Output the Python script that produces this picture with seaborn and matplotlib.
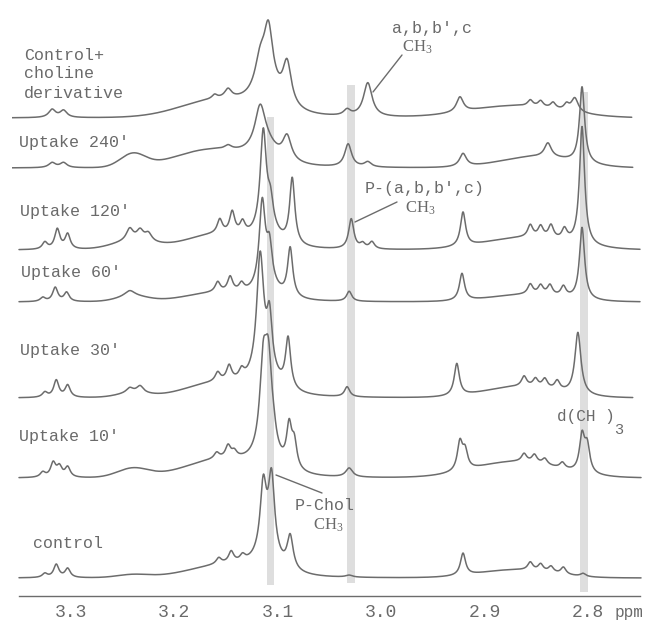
import numpy as np
import pandas as pd
import matplotlib
matplotlib.use("Agg")
import matplotlib.pyplot as plt
import seaborn as sns

# ------------------------------------------------------------------ data
trace_names = ["Control+choline derivative", "Uptake 240′", "Uptake 120′",
               "Uptake 60′", "Uptake 30′", "Uptake 10′", "control"]
baselines = [478, 428, 346, 294, 198, 118, 18]
ppm_start = [3.357, 3.357, 3.350, 3.350, 3.350, 3.350, 3.350]
ppm_end = [2.758, 2.757, 2.750, 2.750, 2.757, 2.749, 2.749]

# narrow (Lorentzian) peaks: position ppm, height, half width; broad humps (Gaussian)
top_pos = [3.318, 3.307, 3.161, 3.148, 3.117, 3.109, 3.110, 3.091, 3.033, 3.013, 2.924, 2.856, 2.846, 2.834, 2.821, 2.813]
top_h   = [8, 7, 4, 9, 28, 54, 25, 42, 6, 34, 15, 6, 6, 6, 6, 14]
top_w   = [0.004, 0.004, 0.003, 0.004, 0.006, 0.005, 0.015, 0.005, 0.004, 0.005, 0.004, 0.003, 0.003, 0.003, 0.003, 0.004]
top_gp  = [3.16, 2.87]
top_gh  = [16, 12]
top_gs  = [0.035, 0.045]

u240_pos = [3.318, 3.307, 3.148, 3.117, 3.112, 3.091, 3.032, 3.013, 2.921, 2.839, 2.806]
u240_h   = [5, 5, 4, 40, 18, 24, 23, 5, 13, 14, 76]
u240_w   = [0.004, 0.004, 0.004, 0.006, 0.015, 0.005, 0.004, 0.004, 0.004, 0.004, 0.003]
u240_gp  = [3.24, 3.165, 2.85]
u240_gh  = [13, 17, 11]
u240_gs  = [0.012, 0.035, 0.035]

u120_pos = [3.325, 3.313, 3.303, 3.243, 3.233, 3.225, 3.156, 3.144, 3.134, 3.114, 3.107, 3.110, 3.086, 3.029, 3.018, 3.009, 2.921, 2.856, 2.846, 2.836, 2.823, 2.806]
u120_h   = [7, 20, 15, 12, 10, 8, 14, 22, 12, 95, 22, 20, 66, 30, 5, 7, 34, 12, 11, 13, 11, 118]
u120_w   = [0.003, 0.003, 0.003, 0.004, 0.004, 0.004, 0.003, 0.003, 0.003, 0.0035, 0.003, 0.012, 0.003, 0.003, 0.003, 0.003, 0.003, 0.003, 0.003, 0.003, 0.003, 0.003]
u120_gp  = [3.24, 3.16, 2.86]
u120_gh  = [8, 14, 12]
u120_gs  = [0.02, 0.03, 0.04]

u60_pos = [3.327, 3.315, 3.304, 3.243, 3.158, 3.146, 3.135, 3.115, 3.108, 3.110, 3.088, 3.031, 2.922, 2.856, 2.846, 2.837, 2.824, 2.806]
u60_h   = [4, 14, 9, 6, 10, 15, 8, 82, 34, 16, 49, 10, 27, 10, 9, 10, 10, 72]
u60_w   = [0.003, 0.003, 0.003, 0.006, 0.003, 0.003, 0.003, 0.0035, 0.003, 0.012, 0.003, 0.003, 0.003, 0.003, 0.003, 0.003, 0.003, 0.003]
u60_gp  = [3.24, 3.16, 2.86]
u60_gh  = [5, 8, 7]
u60_gs  = [0.015, 0.03, 0.035]

u30_pos = [3.325, 3.314, 3.303, 3.243, 3.233, 3.158, 3.147, 3.135, 3.117, 3.108, 3.112, 3.090, 3.033, 2.927, 2.862, 2.851, 2.842, 2.830, 2.810]
u30_h   = [5, 17, 12, 5, 7, 9, 15, 9, 114, 50, 25, 50, 10, 32, 10, 8, 9, 9, 62]
u30_w   = [0.003, 0.003, 0.003, 0.004, 0.004, 0.003, 0.003, 0.003, 0.004, 0.003, 0.014, 0.003, 0.003, 0.003, 0.003, 0.003, 0.003, 0.003, 0.0035]
u30_gp  = [3.24, 3.16, 2.865]
u30_gh  = [4, 13, 11]
u30_gs  = [0.015, 0.03, 0.035]

u10_pos = [3.327, 3.317, 3.311, 3.303, 3.159, 3.148, 3.142, 3.114, 3.109, 3.104, 3.110, 3.089, 3.084, 3.031, 2.924, 2.919, 2.862, 2.852, 2.842, 2.825, 2.806, 2.801]
u10_h   = [5, 14, 10, 10, 6, 12, 6, 80, 80, 10, 18, 40, 25, 9, 28, 18, 8, 8, 6, 6, 36, 26]
u10_w   = [0.003, 0.003, 0.003, 0.003, 0.003, 0.003, 0.003, 0.004, 0.004, 0.003, 0.012, 0.003, 0.003, 0.004, 0.003, 0.003, 0.003, 0.003, 0.003, 0.003, 0.003, 0.003]
u10_gp  = [3.24, 3.155, 2.87]
u10_gh  = [9, 17, 16]
u10_gs  = [0.015, 0.035, 0.04]

ctrl_pos = [3.325, 3.314, 3.303, 3.157, 3.145, 3.134, 3.114, 3.106, 3.110, 3.088, 3.031, 2.921, 2.856, 2.846, 2.836, 2.824, 2.805]
ctrl_h   = [4, 13, 9, 6, 11, 6, 64, 73, 22, 33, 2, 22, 8, 7, 6, 7, 3]
ctrl_w   = [0.003, 0.003, 0.003, 0.003, 0.003, 0.003, 0.0035, 0.0035, 0.012, 0.0035, 0.004, 0.003, 0.003, 0.003, 0.003, 0.003, 0.003]
ctrl_gp  = [3.24, 3.15, 2.87]
ctrl_gh  = [3, 12, 8]
ctrl_gs  = [0.015, 0.035, 0.035]

# shaded reference bands (ppm centre, vertical extent)
band_ppm = [3.107, 3.029, 2.804]
band_lo = [11, 13, 4]
band_hi = [479, 511, 504]

major_ticks = [3.35, 3.25, 3.15, 3.05, 2.95, 2.85, 2.75]
minor_ticks = [3.3, 3.2, 3.1, 3.0, 2.9, 2.8]
minor_labels = ["3.3", "3.2", "3.1", "3.0", "2.9", "2.8"]

peak_sets = [
    (top_pos, top_h, top_w, top_gp, top_gh, top_gs),
    (u240_pos, u240_h, u240_w, u240_gp, u240_gh, u240_gs),
    (u120_pos, u120_h, u120_w, u120_gp, u120_gh, u120_gs),
    (u60_pos, u60_h, u60_w, u60_gp, u60_gh, u60_gs),
    (u30_pos, u30_h, u30_w, u30_gp, u30_gh, u30_gs),
    (u10_pos, u10_h, u10_w, u10_gp, u10_gh, u10_gs),
    (ctrl_pos, ctrl_h, ctrl_w, ctrl_gp, ctrl_gh, ctrl_gs),
]

# ------------------------------------------------------------------ build spectra
frames = []
for name, base, s, e, (pp, hh, ww, gp, gh, gs) in zip(trace_names, baselines, ppm_start, ppm_end, peak_sets):
    x = np.linspace(s, e, 2400)
    y = np.full_like(x, float(base))
    for p, h, w in zip(pp, hh, ww):
        y += h / (1.0 + ((x - p) / w) ** 2)
    for p, h, w in zip(gp, gh, gs):
        y += h * np.exp(-0.5 * ((x - p) / w) ** 2)
    frames.append(pd.DataFrame({"ppm": x, "intensity": y, "trace": name}))
df = pd.concat(frames, ignore_index=True)

# ------------------------------------------------------------------ figure
sns.set_style("white")
plt.rcParams["font.family"] = ["Liberation Mono", "DejaVu Sans Mono"]
plt.rcParams["mathtext.fontset"] = "custom"
plt.rcParams["mathtext.rm"] = "Liberation Serif"
plt.rcParams["mathtext.it"] = "Liberation Serif:italic"

W, H = 654, 622
fig = plt.figure(figsize=(W / 100, H / 100), dpi=100)
X0, X1 = 12, 642
ax = fig.add_axes([X0 / W, 26 / H, (X1 - X0) / W, 596 / H])
PPM_PER_PX = 1 / 1035.0
ax.set_xlim(3.35 + (19 - X0) * PPM_PER_PX, 3.35 - (X1 - 19) * PPM_PER_PX)
ax.set_ylim(0, 596)

GRAY = "#6c6c6c"
TXT = "#6a6a6a"

for c, lo, hi in zip(band_ppm, band_lo, band_hi):
    ax.axvspan(c - 0.0038, c + 0.0038, ymin=lo / 596, ymax=hi / 596,
               color="#dedede", lw=0, zorder=0)

sns.lineplot(data=df, x="ppm", y="intensity", units="trace", estimator=None,
             sort=False, color=GRAY, lw=1.1, ax=ax, legend=False, zorder=2)

for sp in ["top", "left", "right"]:
    ax.spines[sp].set_visible(False)
ax.spines["bottom"].set_bounds(2.75, 3.35)
ax.spines["bottom"].set_color(GRAY)
ax.spines["bottom"].set_linewidth(1.0)
ax.set_yticks([])
ax.set_xlabel("")
ax.set_ylabel("")
ax.set_xticks(major_ticks)
ax.set_xticklabels([""] * len(major_ticks))
ax.set_xticks(minor_ticks, minor=True)
ax.set_xticklabels(minor_labels, minor=True)
ax.tick_params(axis="x", which="major", length=6, width=1, color=GRAY, direction="out")
ax.tick_params(axis="x", which="minor", length=3, width=1, color=GRAY, direction="out",
               labelsize=13, labelcolor=TXT, pad=3)


def ft(x, y, s, size=12, family=None, **kw):
    kw.setdefault("ha", "left")
    kw.setdefault("va", "center")
    if family is not None:
        kw["family"] = family
    fig.text(x / W, 1 - y / H, s, fontsize=size, color=TXT, **kw)


def fpt(x, y):
    return (3.35 - (x - 19) * PPM_PER_PX, 596 - y)


# trace labels
ft(24, 55, "Control+")
ft(24, 74, "choline")
ft(24, 93, "derivative")
ft(19, 143, "Uptake 240′")
ft(20, 212, "Uptake 120′")
ft(21, 273, "Uptake 60′")
ft(20, 351, "Uptake 30′")
ft(19, 436, "Uptake 10′")
ft(33, 543, "control")

# annotations
ft(392, 28, "a,b,b′,c")
ft(402, 47, r"$\mathrm{CH_3}$", size=12)
ft(365, 189, "P-(a,b,b′,c)")
ft(405, 208, r"$\mathrm{CH_3}$", size=12)
ft(295, 506, "P-Chol")
ft(313, 525, r"$\mathrm{CH_3}$", size=12)
ft(557, 417, "d(CH )", size=11.5)
ft(614, 430, "3", size=11)
ft(615, 612, "ppm", size=11.5)

for (x1, y1), (x2, y2) in [((402, 55), (373, 92)), ((397, 202), (355, 222)), ((322, 493), (276, 475))]:
    ax.annotate("", xy=fpt(x2, y2), xytext=fpt(x1, y1),
                arrowprops=dict(arrowstyle="-", color=GRAY, lw=1.0, shrinkA=0, shrinkB=0))

fig.savefig("out.png", dpi=100)
